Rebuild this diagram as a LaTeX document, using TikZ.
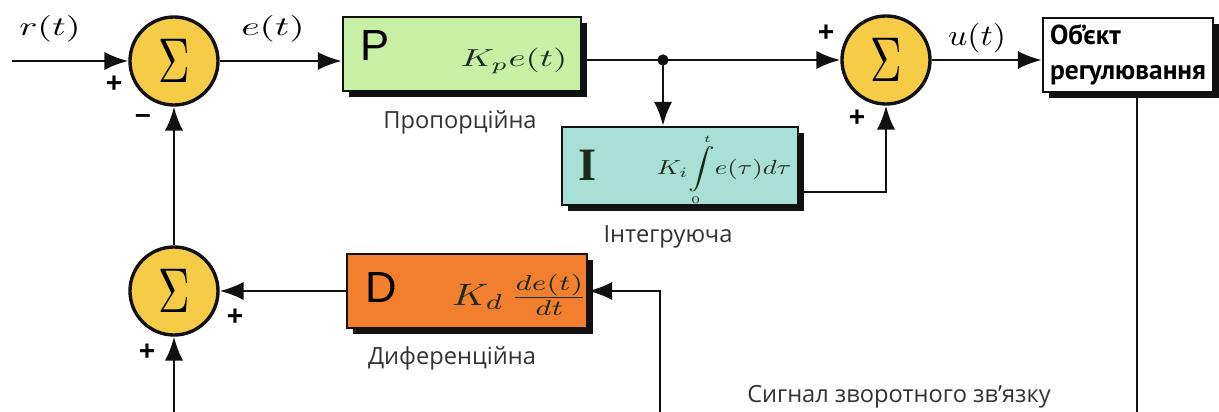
\documentclass[tikz,border=0pt]{standalone}
\usepackage[no-math]{fontspec}
\usepackage{graphicx}
\setmainfont{Open Sans}
\newfontfamily\objfont{PT Sans}
\newfontfamily\arialfont{Liberation Sans}
\newfontfamily\timesfont{Liberation Serif}
\usetikzlibrary{arrows.meta,shadows,calc}

\definecolor{sumfill}{HTML}{F6CB45}
\definecolor{pfill}{HTML}{C8F0A4}
\definecolor{ifill}{HTML}{A8E0D6}
\definecolor{dfill}{HTML}{F27F2E}
\definecolor{ink}{HTML}{111111}
\definecolor{formula}{HTML}{1A2B1C}
\definecolor{captiongray}{HTML}{333333}

% summing junction glyph
\newcommand\sumsign{\scalebox{3.1}[4.5]{$\Sigma$}}
% scaled math
\newcommand\sm[3]{\scalebox{#1}[#2]{$#3$}}

\begin{document}
\begin{tikzpicture}[x=0.025cm,y=-0.025cm,
  wire/.style={line width=1.8pt,draw=ink},
  flow/.style={wire,-{Latex[length=17pt,width=13pt]}},
  summer/.style={circle,draw=ink,line width=2.4pt,fill=sumfill,minimum size=2.2cm,inner sep=0pt},
  block/.style={rectangle,draw=ink,line width=1.8pt,inner sep=0pt,minimum height=1.85cm,
     drop shadow={shadow xshift=4pt,shadow yshift=-4pt,fill=ink,opacity=1}},
  caption/.style={font=\fontsize{16.8}{20}\selectfont,text=captiongray,inner sep=0pt},
  sign/.style={font=\arialfont\bfseries\fontsize{20}{20}\selectfont,inner sep=0pt},
  letter/.style={font=\arialfont\fontsize{31}{31}\selectfont,inner sep=0pt},
  gain/.style={text=formula,inner sep=0pt},
  signal/.style={inner sep=0pt}]

\fill[white] (0,0) rectangle (1219,412);
\clip (0,0) rectangle (1219,412);

% controller blocks and plant
\node[block,fill=pfill,minimum width=5.95cm] (P) at (462,54) {};
\node[block,fill=ifill,minimum width=5.9cm,minimum height=1.95cm] (I) at (680,166) {};
\node[block,fill=dfill,minimum width=6.0cm] (D) at (467,291) {};
\node[block,fill=white,minimum width=4.25cm,align=left,
      font=\objfont\bfseries\fontsize{19.5}{25}\selectfont] (O) at (1128,55) {Об’єкт\\регулювання};

% summing junctions
\node[summer] (S1) at (174,61) {\sumsign};
\node[summer] (S2) at (886,60) {\sumsign};
\node[summer] (S3) at (174,291) {\sumsign};

% block letters
\node[letter] (Pl) at (375,46) {P};
\node[font=\timesfont\bfseries\fontsize{33}{33}\selectfont,text=formula,inner sep=0pt] (Il) at (588,165) {I};
\node[letter] (Dl) at (381,288) {D};

% gains
\node[gain] (Pg) at (514,61) {\sm{2.6}{1.75}{K_p e(t)}};
\node[gain] (Ig) at (724,170) {\sm{1.9}{1.45}{\displaystyle K_i\!\int\limits_{\scriptscriptstyle 0}^{\scriptscriptstyle t}\! e(\tau)d\tau}};
\node[gain] (Dg) at (520,295) {\sm{2.8}{2.2}{K_d\,\frac{de(t)}{dt}}};

% signal names
\node[signal] (r) at (50,29) {\sm{2.7}{1.9}{r(t)}};
\node[signal] (e) at (273,29) {\sm{2.8}{1.9}{e(t)}};
\node[signal] (u) at (977,38) {\sm{2.4}{2.1}{u(t)}};

% signs at the junction inputs
\node[sign] (s1a) at (114,84) {+};
\node[sign] (s1b) at (143,119) {–};
\node[sign] (s2a) at (826,33) {+};
\node[sign] (s2b) at (857,118) {+};
\node[sign] (s3a) at (235,317) {+};
\node[sign] (s3b) at (147,352) {+};

% captions
\node[caption] (Pc) at (460,122) {Пропорційна};
\node[caption] (Ic) at (668,237) {Інтегруюча};
\node[caption] (Dc) at (452,358) {Диференційна};
\node[caption] (Fc) at (899,397) {Сигнал зворотного зв'язку};

% forward path
\coordinate (in) at (12,61);
\draw[flow] (in) -- (S1);
\draw[flow] (S1.east) -- (S1.east -| P.west);
\node[circle,fill=ink,inner sep=0pt,minimum size=8pt] (J) at (663,60) {};
\draw[wire] (J.center -| P.east) -- (J.center);
\draw[flow] (J.center) -- (S2);
\draw[flow] (J.center) -- (J.center |- I.north);
\coordinate (Iout) at ($(I.east)+(0,26)$);
\draw[flow] (Iout) -| (S2.south);
\draw[flow] (S2.east) -- (S2.east -| O.west);

% feedback path
\coordinate (Oout) at ($(O.south)+(9,0)$);
\coordinate (B1) at (1137,414);
\coordinate (B2) at (660,414);
\coordinate (B3) at (174,414);
\draw[wire] (Oout) -- (B1) -- (B3);
\draw[flow] (B3) -- (S3.south);
\draw[flow] (B2) |- (D.east);
\draw[flow] (D.west) -- (S3.east);
\draw[flow] (S3.north) -- (S1.south);
\end{tikzpicture}
\end{document}
